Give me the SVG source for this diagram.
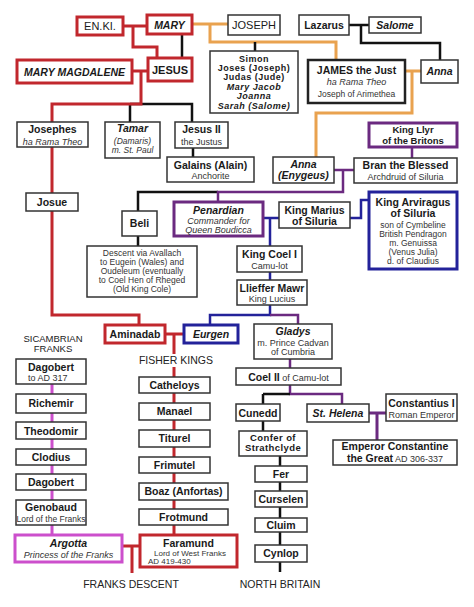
<svg xmlns="http://www.w3.org/2000/svg" width="474" height="607" viewBox="0 0 474 607">
<style>
rect{fill:#fff}
.b{stroke:#333;stroke-width:1.5}
.bk{stroke:#222;stroke-width:2.5}
.r{stroke:#c1272d;stroke-width:3}
.p{stroke:#6b2a80;stroke-width:3}
.u{stroke:#23229a;stroke-width:3}
.m{stroke:#cc4fcc;stroke-width:3}
text{font-family:"Liberation Sans",Arial,sans-serif;fill:#1a1a1a;text-anchor:middle;font-size:10.5px}
.t{font-weight:bold}
.i{font-style:italic}
.s{font-size:9px;fill:#333}
.x{font-size:8.5px}
.w{letter-spacing:0.4px}
.sb{font-size:9px;font-weight:bold;letter-spacing:0.5px}
.lbl{font-size:10.5px;fill:#222}
#connectors path{fill:none;stroke-linejoin:miter}
.cr{stroke:#c1272d;stroke-width:3}
.co{stroke:#e9a24f;stroke-width:3}
.ck{stroke:#111;stroke-width:2.5}
.cp{stroke:#6b2a80;stroke-width:2.5}
.cu{stroke:#23229a;stroke-width:2.5}
.cm{stroke:#cc4fcc;stroke-width:3}
</style>
<g id="connectors">
<path class="co" d="M192,24H228M210,24V42H336V60"/>
<path class="co" d="M405,71H421M412,71V113H316V157"/>
<path class="ck" d="M182,34V58M255,42V51M349,25H369M361,25V43H440V60"/>
<path class="ck" d="M130,104H192V122M130,104V122M193,148V157"/>
<path class="ck" d="M138,211V192H218M138,236V246"/>
<path class="cr" d="M123,26H147M133,26V47H157V58"/>
<path class="cr" d="M132,71H148M141,71V104H52V122M52,147V193M52,211V315H139V325"/>
<path class="cr" d="M165,334H184M174,334V354M174,367V377M174,393V403M174,420V430M174,447V457M174,473V483M174,500V509M174,525V535"/>
<path class="cr" d="M122,546H140M132,546V573"/>
<path class="cp" d="M412,147V158M334,170H354M343,170V192H218V202"/>
<path class="cu" d="M263,218H279M270,218V246M350,218H361V200H369M270,272V280M270,305V315H210V325"/>
<path class="cp" d="M270,315H298V325M290,357V368M290,385V394H342V404"/>
<path class="ck" d="M263,394H290M263,394V404M263,421V431M280,456V466M280,482V491M280,507V518M280,532V545M280,562V572"/>
<path class="cp" d="M369,413H386M377,413V440" style="stroke-width:3"/>
<path class="cm" d="M52,384V394M52,413V422M52,439V449M52,465V474M52,490V500M52,525V535"/>
</g>
<g id="enki"><rect class="r" x="77" y="17" width="46" height="18"/><text x="100" y="30" style="font-size:11px">EN.KI.</text></g>
<g id="mary"><rect class="r" x="147" y="15" width="45" height="19"/><text class="t i" x="169.5" y="29">MARY</text></g>
<g id="jesus"><rect class="r" x="148" y="58" width="44" height="23"/><text class="t" x="170" y="74" style="font-size:11px">JESUS</text></g>
<g id="magdalene"><rect class="r" x="17" y="60" width="115" height="23"/><text class="t i" x="74.5" y="76">MARY MAGDALENE</text></g>
<g id="joseph"><rect class="b" x="228" y="15" width="52" height="20"/><text x="254" y="29" style="font-size:11px">JOSEPH</text></g>
<g id="lazarus"><rect class="b" x="299" y="15" width="50" height="20"/><text class="t" x="324" y="29">Lazarus</text></g>
<g id="salome"><rect class="b" x="369" y="17" width="52" height="16"/><text class="t i" x="395" y="29">Salome</text></g>
<g id="siblings"><rect class="b" x="210" y="51" width="88" height="62"/>
<text class="sb" x="254" y="62">Simon</text>
<text class="sb" x="254" y="71">Joses (Joseph)</text>
<text class="sb" x="254" y="80">Judas (Jude)</text>
<text class="sb i" x="254" y="90">Mary Jacob</text>
<text class="sb i" x="254" y="99">Joanna</text>
<text class="sb i" x="254" y="108.5">Sarah (Salome)</text></g>
<g id="james"><rect class="bk" x="308" y="60" width="97" height="43"/>
<text class="t" x="356.5" y="74">JAMES the Just</text>
<text class="i s" x="356.5" y="85">ha Rama Theo</text>
<text class="s x" x="356.5" y="97">Joseph of Arimethea</text></g>
<g id="anna"><rect class="b" x="421" y="60" width="37" height="23"/><text class="t i" x="439.5" y="75">Anna</text></g>
<g id="josephes"><rect class="b" x="17" y="122" width="71" height="25"/><text class="t" x="52.5" y="133">Josephes</text><text class="i s" x="52.5" y="145">ha Rama Theo</text></g>
<g id="tamar"><rect class="b" x="105" y="122" width="55" height="36"/><text class="t i" x="132.5" y="132">Tamar</text><text class="i s x" x="132.5" y="144">(Damaris)</text><text class="i s x" x="132.5" y="153">m. St. Paul</text></g>
<g id="jesus2"><rect class="b" x="175" y="122" width="53" height="26"/><text class="t" x="201.5" y="133">Jesus II</text><text class="s" x="201.5" y="145">the Justus</text></g>
<g id="llyr"><rect class="p" x="369" y="123" width="88" height="24"/><text class="t" x="413" y="133" style="font-size:9.5px">King Llyr</text><text class="t" x="413" y="144" style="font-size:9.5px">of the Britons</text></g>
<g id="galains"><rect class="b" x="167" y="157" width="87" height="25"/><text class="t" x="210.5" y="169">Galains (Alain)</text><text class="s" x="210.5" y="179">Anchorite</text></g>
<g id="annaenygeus"><rect class="b" x="273" y="157" width="61" height="26"/><text class="t i" x="303.5" y="168">Anna</text><text class="t i" x="303.5" y="179">(Enygeus)</text></g>
<g id="bran"><rect class="b" x="354" y="158" width="103" height="25"/><text class="t" x="405.5" y="169">Bran the Blessed</text><text class="s" x="405.5" y="180">Archdruid of Siluria</text></g>
<g id="josue"><rect class="b" x="26" y="193" width="52" height="18"/><text class="t" x="52" y="206">Josue</text></g>
<g id="beli"><rect class="b" x="122" y="211" width="35" height="25"/><text class="t" x="139.5" y="227">Beli</text></g>
<g id="penardian"><rect class="p" x="174" y="202" width="89" height="34"/><text class="t i" x="218.5" y="214">Penardian</text><text class="i s" x="218.5" y="224">Commander for</text><text class="i s" x="218.5" y="233">Queen Boudicca</text></g>
<g id="marius"><rect class="b" x="279" y="202" width="71" height="26"/><text class="t" x="314.5" y="214">King Marius</text><text class="t" x="314.5" y="225">of Siluria</text></g>
<g id="arviragus"><rect class="u" x="369" y="192" width="88" height="77"/>
<text class="t" x="413" y="206">King Arviragus</text>
<text class="t" x="413" y="217">of Siluria</text>
<text class="s x" x="413" y="228">son of Cymbeline</text>
<text class="s x" x="413" y="237">British Pendragon</text>
<text class="s x" x="413" y="246">m. Genuissa</text>
<text class="s x" x="413" y="255">(Venus Julia)</text>
<text class="s x" x="413" y="264">d. of Claudius</text></g>
<g id="descent"><rect class="b" x="87" y="246" width="110" height="51"/>
<text class="s x" x="142" y="256">Descent via Avallach</text>
<text class="s x" x="142" y="265">to Eugein (Wales) and</text>
<text class="s x" x="142" y="274">Oudeleum (eventually</text>
<text class="s x" x="142" y="283">to Coel Hen of Rheged</text>
<text class="s x" x="142" y="292">(Old King Cole)</text></g>
<g id="coel1"><rect class="b" x="237" y="246" width="65" height="26"/><text class="t" x="269.5" y="258">King Coel I</text><text class="s" x="269.5" y="269">Camu-lot</text></g>
<g id="llieffer"><rect class="b" x="237" y="280" width="70" height="25"/><text class="t" x="272" y="292">Llieffer Mawr</text><text class="s" x="272" y="302">King Lucius</text></g>
<g id="aminadab"><rect class="r" x="105" y="325" width="60" height="18"/><text class="t" x="135" y="338">Aminadab</text></g>
<g id="eurgen"><rect class="u" x="184" y="325" width="54" height="18"/><text class="t i" x="211" y="338">Eurgen</text></g>
<g id="gladys"><rect class="b" x="254" y="324" width="78" height="35"/><text class="t i" x="293" y="335">Gladys</text><text class="s" x="293" y="346">m. Prince Cadvan</text><text class="s" x="293" y="355">of Cumbria</text></g>
<g id="coel2"><rect class="b" x="236" y="368" width="105" height="17"/><text x="288.5" y="380.5"><tspan class="t">Coel II</tspan><tspan style="font-size:9px;fill:#333"> of Camu-lot</tspan></text></g>
<g id="cunedd"><rect class="b" x="236" y="404" width="44" height="17"/><text class="t" x="258" y="416.5">Cunedd</text></g>
<g id="helena"><rect class="b" x="307" y="404" width="62" height="18"/><text class="t i" x="338" y="417">St. Helena</text></g>
<g id="constantius"><rect class="b" x="386" y="394" width="71" height="27"/><text class="t" x="421.5" y="407">Constantius I</text><text class="s" x="421.5" y="418">Roman Emperor</text></g>
<g id="confer"><rect class="b" x="239" y="431" width="68" height="25"/><text class="t w" x="273" y="441" style="font-size:9.5px">Confer of</text><text class="t w" x="273" y="451" style="font-size:9.5px">Strathclyde</text></g>
<g id="constantine"><rect class="b" x="333" y="440" width="124" height="25"/><text class="t" x="395" y="450">Emperor Constantine</text><text x="395" y="461.5"><tspan class="t">the Great</tspan><tspan style="font-size:9px;fill:#333">  AD 306-337</tspan></text></g>
<g id="sicambrian"><text class="lbl" x="53" y="342" style="font-size:9.5px">SICAMBRIAN</text><text class="lbl" x="53" y="352" style="font-size:9.5px">FRANKS</text></g>
<g id="dagobert1"><rect class="b" x="16" y="359" width="70" height="25"/><text class="t" x="51" y="371">Dagobert</text><text class="s" x="28" y="381" style="text-anchor:start">to AD 317</text></g>
<g id="richemir"><rect class="b" x="16" y="394" width="70" height="19"/><text class="t" x="51" y="407">Richemir</text></g>
<g id="theodomir"><rect class="b" x="16" y="422" width="70" height="17"/><text class="t" x="51" y="435">Theodomir</text></g>
<g id="clodius"><rect class="b" x="16" y="449" width="70" height="16"/><text class="t" x="51" y="461">Clodius</text></g>
<g id="dagobert2"><rect class="b" x="16" y="474" width="70" height="16"/><text class="t" x="51" y="486">Dagobert</text></g>
<g id="genobaud"><rect class="b" x="16" y="500" width="70" height="25"/><text class="t" x="51" y="511">Genobaud</text><text class="s x" x="51" y="522">Lord of the Franks</text></g>
<g id="argotta"><rect class="m" x="15" y="535" width="107" height="27"/><text class="t i" x="68.5" y="547">Argotta</text><text class="i s" x="68.5" y="558">Princess of the Franks</text></g>
<g id="fisherkings"><text class="lbl" x="176" y="364">FISHER KINGS</text></g>
<g id="catheloys"><rect class="b" x="139" y="377" width="71" height="16"/><text class="t" x="174.5" y="389">Catheloys</text></g>
<g id="manael"><rect class="b" x="139" y="403" width="71" height="17"/><text class="t" x="174.5" y="415">Manael</text></g>
<g id="titurel"><rect class="b" x="139" y="430" width="71" height="17"/><text class="t" x="174.5" y="442">Titurel</text></g>
<g id="frimutel"><rect class="b" x="139" y="457" width="71" height="16"/><text class="t" x="174.5" y="469">Frimutel</text></g>
<g id="boaz"><rect class="b" x="139" y="483" width="89" height="17"/><text class="t" x="183.5" y="495">Boaz (Anfortas)</text></g>
<g id="frotmund"><rect class="b" x="139" y="509" width="89" height="16"/><text class="t" x="183.5" y="521">Frotmund</text></g>
<g id="faramund"><rect class="r" x="140" y="535" width="97" height="32"/><text class="t" x="188.5" y="546.5">Faramund</text><text class="s" x="190" y="555.5" style="font-size:8px">Lord of West Franks</text><text class="s" x="148" y="564" style="font-size:8px;text-anchor:start">AD 419-430</text></g>
<g id="fer"><rect class="b" x="255" y="466" width="52" height="16"/><text class="t" x="281" y="478">Fer</text></g>
<g id="curselen"><rect class="b" x="255" y="491" width="52" height="16"/><text class="t" x="281" y="503">Curselen</text></g>
<g id="cluim"><rect class="b" x="255" y="518" width="52" height="14"/><text class="t" x="281" y="529">Cluim</text></g>
<g id="cynlop"><rect class="b" x="255" y="545" width="52" height="17"/><text class="t" x="281" y="557">Cynlop</text></g>
<g id="franksdescent"><text class="lbl" x="131" y="588">FRANKS DESCENT</text></g>
<g id="northbritain"><text class="lbl" x="280" y="588">NORTH BRITAIN</text></g>
</svg>
